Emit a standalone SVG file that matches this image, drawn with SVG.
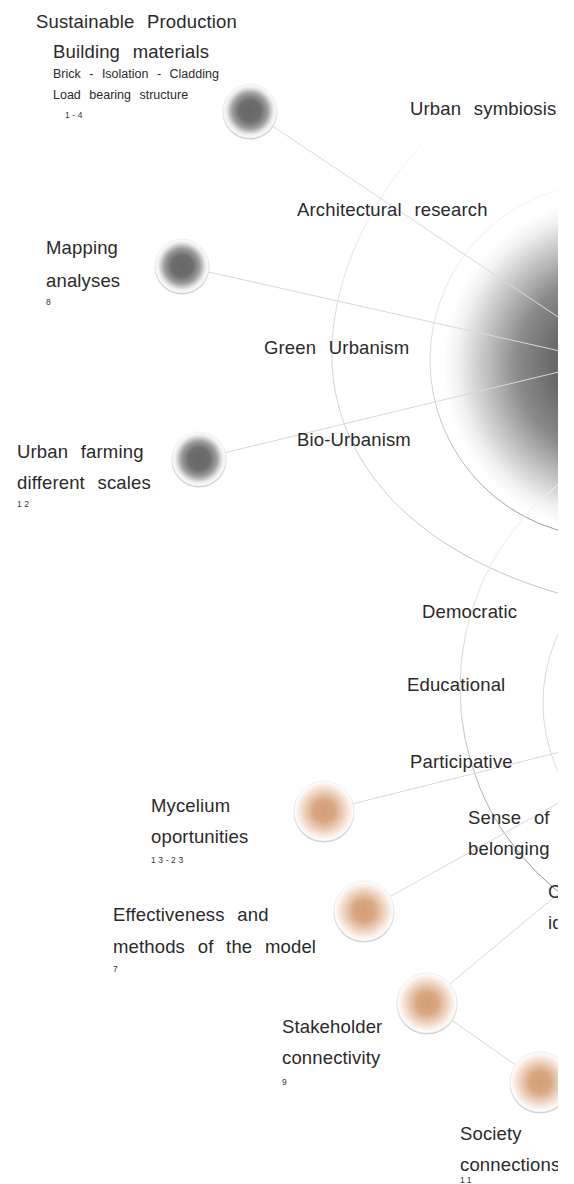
<svg xmlns="http://www.w3.org/2000/svg" width="574" height="1184" viewBox="0 0 574 1184">
<style>
.t{font-family:"Liberation Sans",Arial,sans-serif;fill:#2a2a2a;font-size:18.5px;word-spacing:0.4em;letter-spacing:0.15px}
.s{font-family:"Liberation Sans",Arial,sans-serif;fill:#2a2a2a;font-size:12.5px;word-spacing:0.4em}
.n{font-family:"Liberation Sans",Arial,sans-serif;fill:#333;font-size:8.5px;letter-spacing:2.6px}
.c{fill:none;stroke:#d9d9d9;stroke-width:1}
.rim{fill:#d2d2d2}
</style>
<defs>
<clipPath id="clip"><rect x="0" y="0" width="558" height="1184"/></clipPath>
<radialGradient id="gNode" cx="0.5" cy="0.5" r="0.5">
<stop offset="0" stop-color="#666"/>
<stop offset="0.4" stop-color="#6e6e6e"/>
<stop offset="0.65" stop-color="#9c9c9c"/>
<stop offset="0.87" stop-color="#ececec"/>
<stop offset="1" stop-color="#fff"/>
</radialGradient>
<radialGradient id="oNode" cx="0.5" cy="0.5" r="0.5">
<stop offset="0" stop-color="#d49e77"/>
<stop offset="0.35" stop-color="#d9a782"/>
<stop offset="0.65" stop-color="#ecd1bd"/>
<stop offset="0.9" stop-color="#fbf4ef"/>
<stop offset="1" stop-color="#fff"/>
</radialGradient>
<radialGradient id="gSphere" gradientUnits="userSpaceOnUse" cx="610" cy="365" r="185">
<stop offset="0" stop-color="#646464"/>
<stop offset="0.3" stop-color="#686868"/>
<stop offset="0.5" stop-color="#8a8a8a"/>
<stop offset="0.68" stop-color="#c4c4c4"/>
<stop offset="0.82" stop-color="#f0f0f0"/>
<stop offset="0.9" stop-color="#fff"/>
</radialGradient>
<linearGradient id="sOut" gradientUnits="userSpaceOnUse" x1="470" y1="200" x2="540" y2="530">
<stop offset="0" stop-color="#f6f6f6"/>
<stop offset="0.5" stop-color="#d6d6d6"/>
<stop offset="1" stop-color="#999"/>
</linearGradient>
<linearGradient id="aOut" gradientUnits="userSpaceOnUse" x1="0" y1="140" x2="0" y2="600">
<stop offset="0" stop-color="#f6f6f6"/>
<stop offset="0.4" stop-color="#dadada"/>
<stop offset="1" stop-color="#c4c4c4"/>
</linearGradient>
<linearGradient id="bOut" gradientUnits="userSpaceOnUse" x1="0" y1="480" x2="0" y2="900">
<stop offset="0" stop-color="#f2f2f2"/>
<stop offset="0.5" stop-color="#d4d4d4"/>
<stop offset="1" stop-color="#8c8c8c"/>
</linearGradient>
</defs>
<rect width="574" height="1184" fill="#fff"/>
<g clip-path="url(#clip)">
<g id="sphere-grey">
<circle cx="607" cy="360" r="177" fill="url(#gSphere)" stroke="url(#sOut)" stroke-width="1"/>
</g>
<g id="sphere-orange">
<circle cx="708" cy="703" r="165" fill="none" stroke="#dcdcdc" stroke-width="1"/>
</g>
<g id="rings">
<path d="M423,143 C370,200 330,280 332,360 C334,450 400,560 600,604" fill="none" stroke="url(#aOut)" stroke-width="1"/>
<circle cx="720" cy="688" r="260" fill="none" stroke="url(#bOut)" stroke-width="1"/>
</g>
<g id="connectors">
<line class="c" x1="250" y1="111" x2="600" y2="345"/>
<line class="c" x1="182" y1="266" x2="600" y2="360"/>
<line class="c" x1="199" y1="459" x2="600" y2="362"/>
<line class="c" x1="324" y1="811" x2="600" y2="742"/>
<line class="c" x1="364" y1="911" x2="600" y2="780"/>
<line class="c" x1="427" y1="1003" x2="600" y2="859"/>
<line class="c" x1="427" y1="1003" x2="540" y2="1082"/>
</g>
<g id="node-building">
<circle class="rim" cx="250" cy="112.2" r="27.4"/>
<circle cx="250" cy="111" r="27" fill="url(#gNode)" stroke="#e4e4e4" stroke-width="0.6"/>
</g>
<g id="node-mapping">
<circle class="rim" cx="182" cy="267.2" r="27.4"/>
<circle cx="182" cy="266" r="27" fill="url(#gNode)" stroke="#e4e4e4" stroke-width="0.6"/>
</g>
<g id="node-farming">
<circle class="rim" cx="199" cy="460.2" r="27.4"/>
<circle cx="199" cy="459" r="27" fill="url(#gNode)" stroke="#e4e4e4" stroke-width="0.6"/>
</g>
<g id="node-mycelium">
<circle class="rim" cx="324" cy="812.2" r="30.4"/>
<circle cx="324" cy="811" r="30" fill="url(#oNode)" stroke="#e4e4e4" stroke-width="0.6"/>
</g>
<g id="node-effectiveness">
<circle class="rim" cx="364" cy="912.2" r="30.4"/>
<circle cx="364" cy="911" r="30" fill="url(#oNode)" stroke="#e4e4e4" stroke-width="0.6"/>
</g>
<g id="node-stakeholder">
<circle class="rim" cx="427" cy="1004.2" r="30.4"/>
<circle cx="427" cy="1003" r="30" fill="url(#oNode)" stroke="#e4e4e4" stroke-width="0.6"/>
</g>
<g id="node-society">
<circle class="rim" cx="540" cy="1083.2" r="30.4"/>
<circle cx="540" cy="1082" r="30" fill="url(#oNode)" stroke="#e4e4e4" stroke-width="0.6"/>
</g>
<g id="labels">
<text class="t" x="36" y="28">Sustainable Production</text>
<text class="t" x="53" y="58">Building materials</text>
<text class="s" x="53" y="78">Brick - Isolation - Cladding</text>
<text class="s" x="53" y="99">Load bearing structure</text>
<text class="n" x="65" y="118">1-4</text>
<text class="t" x="410" y="115">Urban symbiosis</text>
<text class="t" x="297" y="216">Architectural research</text>
<text class="t" x="46" y="254">Mapping</text>
<text class="t" x="46" y="287">analyses</text>
<text class="n" x="46" y="305">8</text>
<text class="t" x="264" y="354">Green Urbanism</text>
<text class="t" x="297" y="446">Bio-Urbanism</text>
<text class="t" x="17" y="458">Urban farming</text>
<text class="t" x="17" y="489">different scales</text>
<text class="n" x="17" y="507">12</text>
<text class="t" x="422" y="618">Democratic</text>
<text class="t" x="407" y="691">Educational</text>
<text class="t" x="410" y="768">Participative</text>
<text class="t" x="151" y="812">Mycelium</text>
<text class="t" x="151" y="843">oportunities</text>
<text class="n" x="151" y="863">13-23</text>
<text class="t" x="468" y="824">Sense of</text>
<text class="t" x="468" y="855">belonging</text>
<text class="t" x="548" y="898">C</text>
<text class="t" x="548" y="929">id</text>
<text class="t" x="113" y="921">Effectiveness and</text>
<text class="t" x="113" y="953">methods of the model</text>
<text class="n" x="113" y="972">7</text>
<text class="t" x="282" y="1033">Stakeholder</text>
<text class="t" x="282" y="1064">connectivity</text>
<text class="n" x="282" y="1085">9</text>
<text class="t" x="460" y="1140">Society</text>
<text class="t" x="460" y="1171">connections</text>
<text class="n" x="460" y="1183">11</text>
</g>
</g>
</svg>
